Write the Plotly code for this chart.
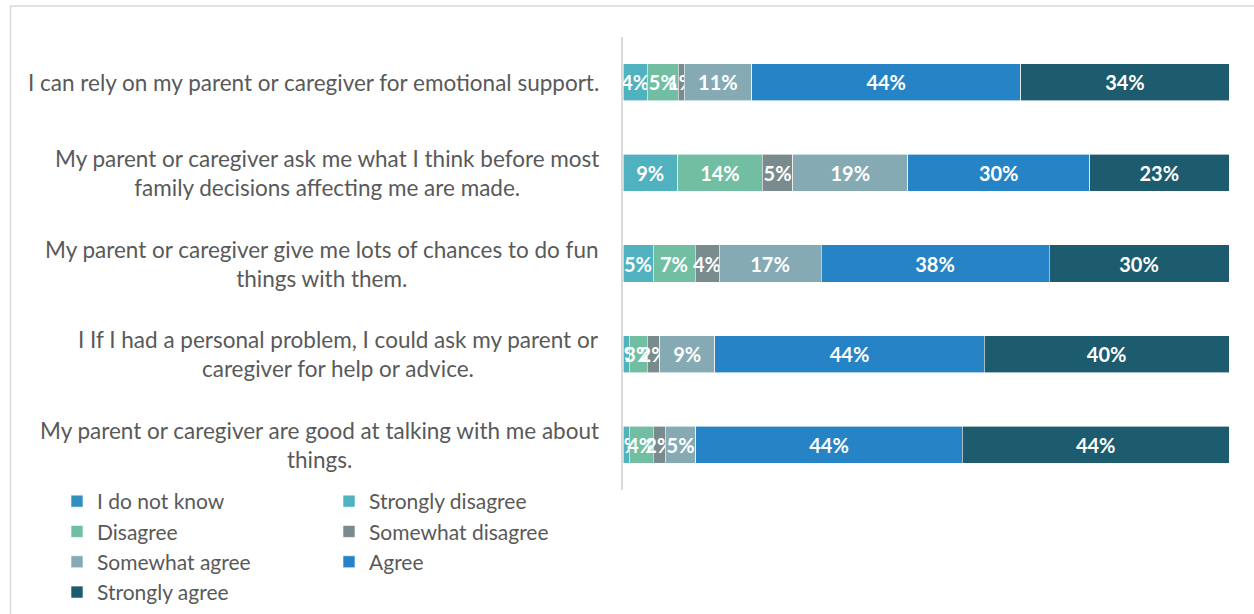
import plotly.graph_objects as go

categories = [
    "I can rely on my parent or caregiver for emotional support.",
    "My parent or caregiver ask me what I think before most<br>family decisions affecting me are made.",
    "My parent or caregiver give me lots of chances to do fun<br>things with them.",
    "I If I had a personal problem, I could ask my parent or<br>caregiver for help or advice.",
    "My parent or caregiver are good at talking with me about<br>things.",
]
series_names = ["I do not know", "Strongly disagree", "Disagree", "Somewhat disagree",
                "Somewhat agree", "Agree", "Strongly agree"]
i_do_not_know = [None, None, None, None, None]
strongly_disagree = [4, 9, 5, 1, 1]
disagree = [5, 14, 7, 3, 4]
somewhat_disagree = [1, 5, 4, 2, 2]
somewhat_agree = [11, 19, 17, 9, 5]
agree = [44, 30, 38, 44, 44]
strongly_agree = [34, 23, 30, 40, 44]
colors = ["#3190BF", "#4FB2BE", "#72BEA3", "#7A8B8D", "#85AAB4", "#2683C6", "#1D5B6F"]

series_values = [i_do_not_know, strongly_disagree, disagree, somewhat_disagree,
                 somewhat_agree, agree, strongly_agree]
legend_ids = ["legend", "legend2", "legend", "legend2", "legend", "legend2", "legend"]

ids = list(range(len(categories)))

fig = go.Figure()
for name, vals, col, lg in zip(series_names, series_values, colors, legend_ids):
    fig.add_trace(go.Bar(
        y=ids, x=vals, name=name, orientation="h",
        marker=dict(color=col, line=dict(color="white", width=0.6)),
        text=[("" if v is None else f"{v}%") for v in vals],
        texttemplate="%{text}",
        textposition="inside", insidetextanchor="middle", textangle=0,
        constraintext="none",
        textfont=dict(color="white", size=20, family="Lato", weight="bold"),
        legend=lg, hoverinfo="skip",
    ))

annotations = []
for i, c in enumerate(categories):
    annotations.append(dict(
        x=-22 / 606, xref="paper", y=i, yref="y", text=c, showarrow=False,
        xanchor="right", yanchor="middle", align="center",
        font=dict(family="Lato", size=22.5, color="#595959"),
    ))

shapes = [
    dict(type="line", xref="paper", yref="paper", x0=(10.5 - 623) / 606, x1=(1260 - 623) / 606,
         y0=(490 - 6) / 453, y1=(490 - 6) / 453, line=dict(color="#D9D9D9", width=1.5)),
    dict(type="line", xref="paper", yref="paper", x0=(10.5 - 623) / 606, x1=(10.5 - 623) / 606,
         y0=(490 - 6) / 453, y1=(490 - 620) / 453, line=dict(color="#D9D9D9", width=1.5)),
]

legend_font = dict(family="Lato", size=21, color="#595959")
fig.update_layout(
    width=1254, height=614,
    margin=dict(l=623, r=25, t=37, b=124),
    paper_bgcolor="white", plot_bgcolor="white",
    barmode="stack", barnorm="percent", bargap=0.59,
    xaxis=dict(range=[0, 100], showgrid=False, showticklabels=False, zeroline=False,
               showline=False, fixedrange=True),
    yaxis=dict(autorange="reversed", showticklabels=False, showgrid=False, zeroline=False,
               showline=True, linecolor="#D9D9D9", linewidth=1.5, ticks=""),
    legend=dict(xref="container", yref="container", x=57 / 1254, y=1 - 481 / 614,
                xanchor="left", yanchor="top", orientation="v", font=legend_font,
                tracegroupgap=0, traceorder="normal", bgcolor="rgba(0,0,0,0)"),
    legend2=dict(xref="container", yref="container", x=329 / 1254, y=1 - 481 / 614,
                 xanchor="left", yanchor="top", orientation="v", font=legend_font,
                 tracegroupgap=0, traceorder="normal", bgcolor="rgba(0,0,0,0)"),
    annotations=annotations,
    shapes=shapes,
    showlegend=True,
)

fig.write_html("out.html")
